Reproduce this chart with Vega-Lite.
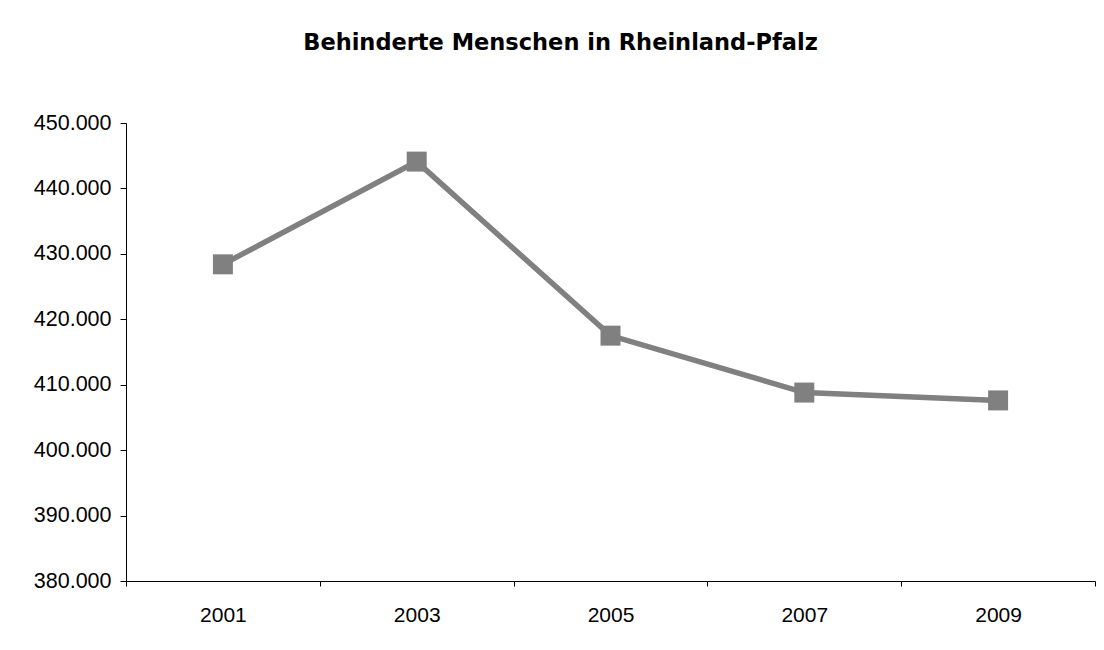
{
  "$schema": "https://vega.github.io/schema/vega-lite/v6.json",
  "width": 969,
  "height": 458,
  "autosize": "none",
  "padding": {"left": 126, "top": 123, "right": 9, "bottom": 69},
  "background": "white",
  "title": {
    "text": "Behinderte Menschen in Rheinland-Pfalz",
    "font": "DejaVu Sans",
    "fontWeight": "bold",
    "fontSize": 22.5,
    "color": "black",
    "anchor": "middle",
    "frame": "group",
    "dx": -50,
    "offset": 58
  },
  "data": {
    "values": [
      {"Jahr": "2001", "Anzahl": 428400},
      {"Jahr": "2003", "Anzahl": 444100},
      {"Jahr": "2005", "Anzahl": 417500},
      {"Jahr": "2007", "Anzahl": 408800},
      {"Jahr": "2009", "Anzahl": 407600}
    ]
  },
  "encoding": {
    "x": {
      "field": "Jahr",
      "type": "ordinal",
      "scale": {"paddingInner": 0, "paddingOuter": 0},
      "axis": {
        "title": null,
        "labelAngle": 0,
        "labelFont": "Liberation Sans",
        "labelFontSize": 21,
        "labelColor": "black",
        "labelPadding": 18,
        "tickBand": "extent",
        "tickSize": 5,
        "tickColor": "black",
        "domainColor": "black",
        "grid": false
      }
    },
    "y": {
      "field": "Anzahl",
      "type": "quantitative",
      "scale": {"domain": [380000, 450000], "nice": false, "zero": false},
      "axis": {
        "title": null,
        "values": [380000, 390000, 400000, 410000, 420000, 430000, 440000, 450000],
        "format": ",.0f",
        "labelFont": "Liberation Sans",
        "labelFontSize": 21.5,
        "labelColor": "black",
        "labelPadding": 9,
        "tickSize": 6,
        "tickColor": "black",
        "domainColor": "black",
        "grid": false
      }
    }
  },
  "layer": [
    {"mark": {"type": "line", "color": "#808080", "strokeWidth": 5.5}},
    {"mark": {"type": "point", "shape": "square", "filled": true, "size": 400, "color": "#808080", "opacity": 1}}
  ],
  "config": {
    "view": {"stroke": null},
    "locale": {"number": {"decimal": ",", "thousands": ".", "grouping": [3], "currency": ["", " €"]}}
  }
}
